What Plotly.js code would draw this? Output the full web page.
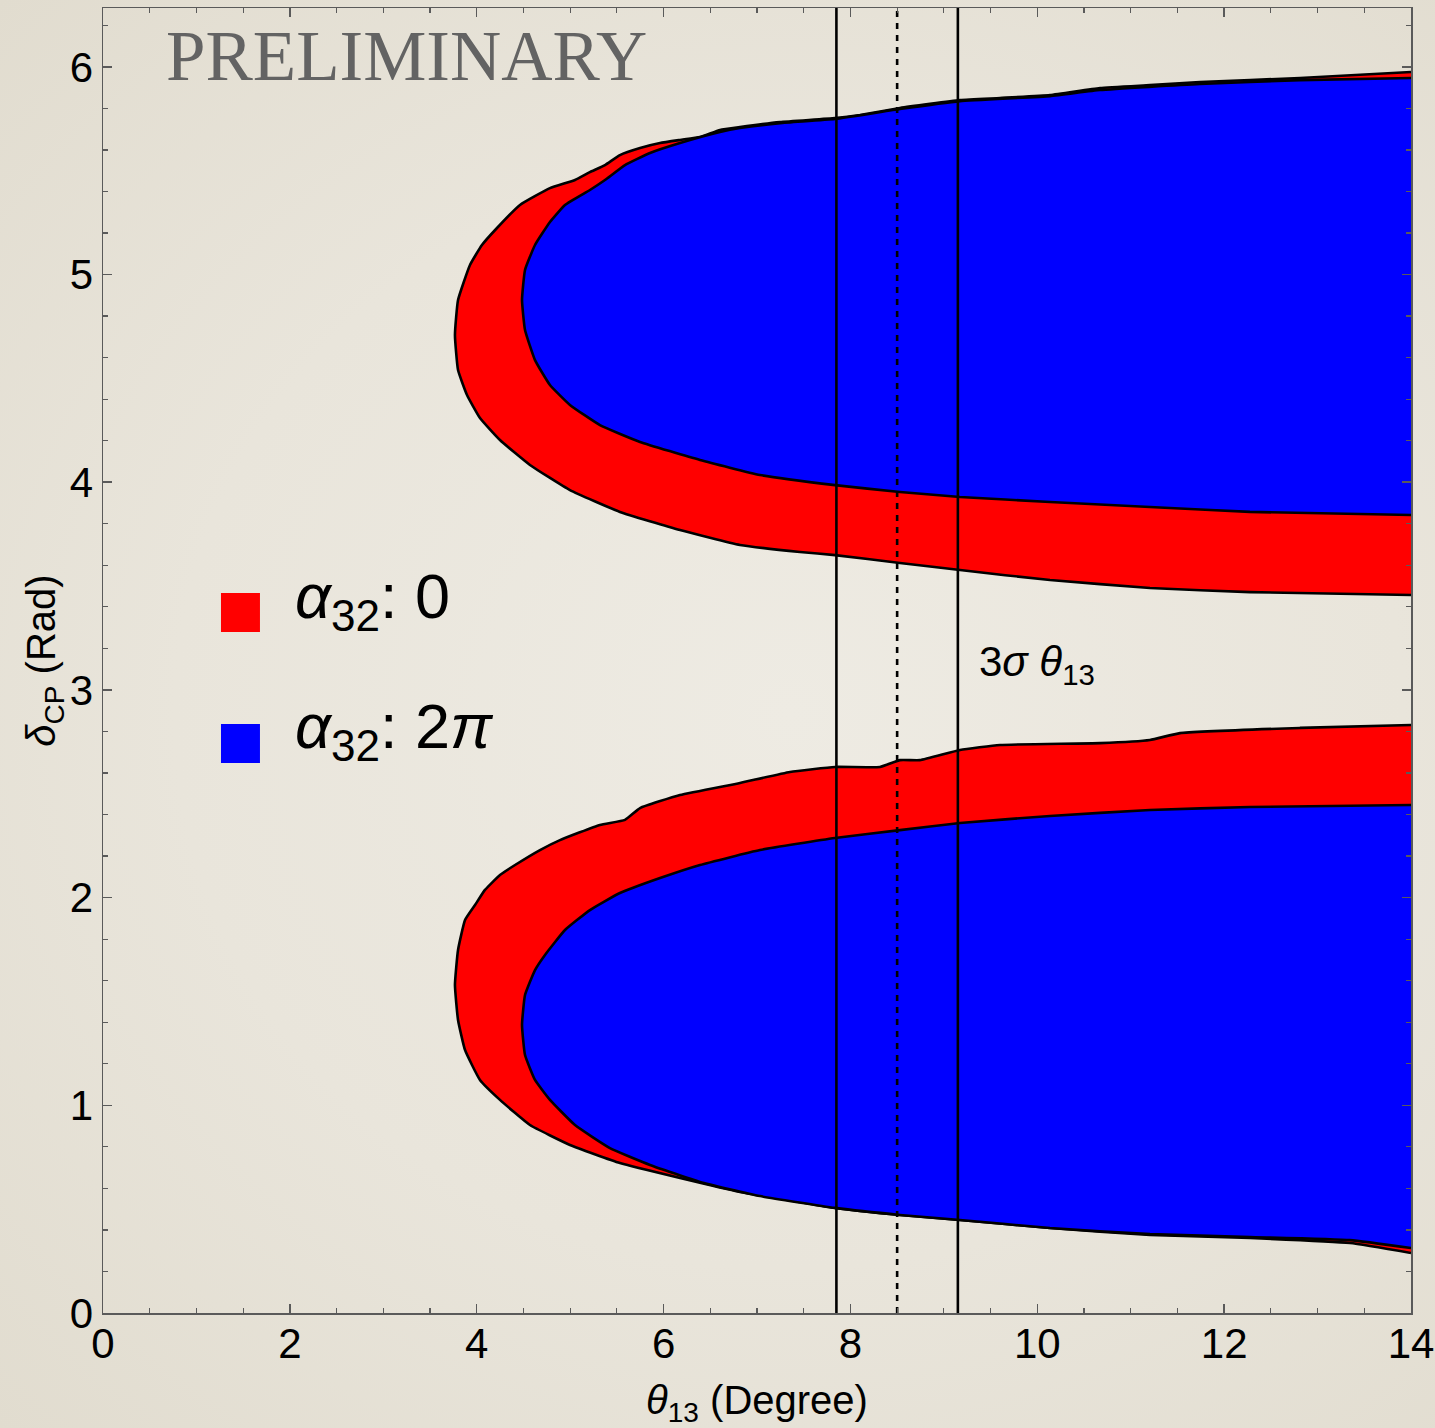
<!DOCTYPE html>
<html>
<head>
<meta charset="utf-8">
<script src="https://cdn.plot.ly/plotly-3.0.1.min.js"></script>
<style>
  html, body { margin: 0; padding: 0; }
  body {
    width: 1435px; height: 1428px; overflow: hidden;
    background: radial-gradient(ellipse at 55% 50%, #eeebe3 0%, #e9e5db 55%, #e1dccf 100%);
  }
  #chart { width: 1435px; height: 1428px; }
</style>
</head>
<body>
<div id="chart"></div>
<script>
// Allowed (theta13, deltaCP) regions. Each lobe is given as its upper and
// lower boundary, both starting at the left-hand tip.

// alpha32 = 0 : upper lobe
const redUpTopTheta = [3.767, 3.800, 3.928, 4.056, 4.217, 4.463, 4.784, 5.052, 5.212, 5.373, 5.533, 5.748, 5.962, 6.176, 6.390, 6.604, 6.818, 7.246, 7.835, 8.102, 8.530, 9.173, 9.601, 10.136, 10.671, 11.206, 11.741, 12.812, 14.0];
const redUpTopDelta = [4.709, 4.877, 5.046, 5.142, 5.224, 5.335, 5.416, 5.455, 5.493, 5.527, 5.575, 5.609, 5.633, 5.648, 5.662, 5.696, 5.710, 5.734, 5.753, 5.768, 5.802, 5.840, 5.850, 5.864, 5.898, 5.912, 5.927, 5.946, 5.975];
const redUpBotTheta = [3.767, 3.800, 3.896, 4.035, 4.249, 4.570, 4.998, 5.533, 6.176, 6.818, 7.460, 7.835, 8.530, 9.173, 10.136, 11.206, 12.276, 14.0];
const redUpBotDelta = [4.709, 4.540, 4.420, 4.309, 4.203, 4.083, 3.962, 3.857, 3.770, 3.698, 3.664, 3.649, 3.611, 3.577, 3.529, 3.491, 3.471, 3.457];

// alpha32 = 0 : lower lobe
const redLoTopTheta = [3.767, 3.800, 3.875, 3.982, 4.088, 4.249, 4.410, 4.677, 4.891, 5.319, 5.587, 5.748, 6.176, 6.818, 7.353, 7.835, 8.316, 8.530, 8.744, 9.173, 9.601, 10.671, 11.206, 11.527, 12.812, 14.0];
const redLoTopDelta = [1.579, 1.748, 1.892, 1.964, 2.037, 2.109, 2.157, 2.229, 2.277, 2.350, 2.374, 2.431, 2.494, 2.552, 2.605, 2.629, 2.629, 2.662, 2.662, 2.711, 2.735, 2.744, 2.759, 2.792, 2.817, 2.831];
const redLoBotTheta = [3.767, 3.800, 3.875, 4.035, 4.249, 4.570, 4.998, 5.533, 6.176, 6.818, 7.460, 7.835, 8.530, 9.173, 10.136, 11.206, 12.276, 13.347, 14.0];
const redLoBotDelta = [1.579, 1.411, 1.266, 1.122, 1.026, 0.905, 0.809, 0.722, 0.650, 0.583, 0.534, 0.506, 0.472, 0.448, 0.409, 0.376, 0.361, 0.337, 0.289];

// alpha32 = 2pi : upper lobe
const blueUpTopTheta = [4.485, 4.517, 4.624, 4.784, 4.945, 5.212, 5.373, 5.587, 5.855, 6.176, 6.604, 6.818, 7.246, 7.835, 8.530, 9.173, 10.136, 10.671, 11.741, 12.812, 14.0];
const blueUpTopDelta = [4.877, 5.022, 5.142, 5.253, 5.335, 5.407, 5.455, 5.527, 5.585, 5.633, 5.686, 5.705, 5.729, 5.749, 5.797, 5.835, 5.859, 5.888, 5.917, 5.936, 5.946];
const blueUpBotTheta = [4.485, 4.517, 4.624, 4.784, 4.998, 5.319, 5.748, 6.390, 7.032, 7.835, 8.530, 9.173, 10.136, 11.206, 12.276, 14.0];
const blueUpBotDelta = [4.877, 4.733, 4.588, 4.468, 4.372, 4.275, 4.194, 4.107, 4.035, 3.986, 3.953, 3.929, 3.905, 3.881, 3.857, 3.842];

// alpha32 = 2pi : lower lobe
const blueLoTopTheta = [4.485, 4.517, 4.624, 4.731, 4.945, 5.212, 5.533, 5.962, 6.390, 7.032, 7.835, 8.530, 9.173, 10.136, 11.206, 12.276, 14.0];
const blueLoTopDelta = [1.387, 1.531, 1.651, 1.724, 1.844, 1.940, 2.022, 2.094, 2.157, 2.229, 2.287, 2.325, 2.359, 2.393, 2.422, 2.436, 2.446];
const blueLoBotTheta = [4.485, 4.517, 4.624, 4.784, 5.052, 5.426, 5.855, 6.390, 7.032, 7.835, 8.530, 9.173, 10.136, 11.206, 12.276, 13.347, 14.0];
const blueLoBotDelta = [1.387, 1.242, 1.122, 1.026, 0.905, 0.794, 0.713, 0.631, 0.563, 0.506, 0.472, 0.448, 0.409, 0.380, 0.366, 0.351, 0.313];

// 3 sigma range of theta13 (solid) and its central value (dotted)
const theta13Sigma = [7.85, 9.15];
const theta13Central = [8.50];

const xTicks = [0, 2, 4, 6, 8, 10, 12, 14];
const yTicks = [0, 1, 2, 3, 4, 5, 6];

const RED = '#ff0000';
const BLUE = '#0000ff';

// Join the two boundaries of a lobe into one outline passing through the tip.
function outline(topX, topY, botX, botY) {
  return {
    x: topX.slice().reverse().concat(botX.slice(1)),
    y: topY.slice().reverse().concat(botY.slice(1))
  };
}

const lobes = [
  { o: outline(redUpTopTheta, redUpTopDelta, redUpBotTheta, redUpBotDelta), c: RED },
  { o: outline(redLoTopTheta, redLoTopDelta, redLoBotTheta, redLoBotDelta), c: RED },
  { o: outline(blueUpTopTheta, blueUpTopDelta, blueUpBotTheta, blueUpBotDelta), c: BLUE },
  { o: outline(blueLoTopTheta, blueLoTopDelta, blueLoBotTheta, blueLoBotDelta), c: BLUE }
];

const traces = [];
lobes.forEach(l => {
  traces.push({
    type: 'scatter', mode: 'lines', x: l.o.x, y: l.o.y,
    fill: 'toself', fillcolor: l.c, line: { width: 0, color: l.c, shape: 'spline', smoothing: 0.4 },
    hoverinfo: 'skip', showlegend: false
  });
  traces.push({
    type: 'scatter', mode: 'lines', x: l.o.x, y: l.o.y,
    line: { width: 2.6, color: '#000000', shape: 'spline', smoothing: 0.4 },
    hoverinfo: 'skip', showlegend: false
  });
});

const Y_TOP = 2 * Math.PI;
theta13Sigma.forEach(t => traces.push({
  type: 'scatter', mode: 'lines', x: [t, t], y: [0, Y_TOP],
  line: { width: 2.6, color: '#000000' }, hoverinfo: 'skip', showlegend: false
}));
theta13Central.forEach(t => traces.push({
  type: 'scatter', mode: 'lines', x: [t, t], y: [0, Y_TOP],
  line: { width: 2.6, color: '#000000', dash: '6px,6px' }, hoverinfo: 'skip', showlegend: false
}));

const axisCommon = {
  showgrid: false, zeroline: false,
  showline: true, linecolor: '#5a5a5a', linewidth: 1.5,
  mirror: 'ticks', ticks: 'inside', ticklen: 9, tickwidth: 1.5, tickcolor: '#5a5a5a',
  tickfont: { family: 'Liberation Sans, Arial, sans-serif', size: 42, color: '#000' }
};

const layout = {
  width: 1435, height: 1428,
  margin: { l: 103, r: 24, t: 8, b: 115 },
  paper_bgcolor: 'rgba(0,0,0,0)',
  plot_bgcolor: 'rgba(0,0,0,0)',
  showlegend: false,
  xaxis: Object.assign({}, axisCommon, {
    range: [0, 14], tickvals: xTicks, ticktext: xTicks.map(String),
    ticklabelstandoff: -7,
    minor: { dtick: 0.5, ticks: 'inside', ticklen: 5, tickwidth: 1.2, tickcolor: '#5a5a5a' },
    title: { text: '<i>θ</i><sub>13</sub> (Degree)', standoff: 20,
      font: { family: 'Liberation Sans, Arial, sans-serif', size: 40, color: '#000' } }
  }),
  yaxis: Object.assign({}, axisCommon, {
    range: [0, Y_TOP], tickvals: yTicks, ticktext: yTicks.map(String),
    minor: { dtick: 0.2, ticks: 'inside', ticklen: 5, tickwidth: 1.2, tickcolor: '#5a5a5a' },
    title: { text: '<i>δ</i><sub>CP</sub> (Rad)', standoff: 0,
      font: { family: 'Liberation Sans, Arial, sans-serif', size: 40, color: '#000' } }
  }),
  shapes: [
    { type: 'rect', xref: 'paper', yref: 'paper', x0: 0.0902, x1: 0.1200, y0: 0.5218, y1: 0.5517,
      fillcolor: RED, line: { width: 0 } },
    { type: 'rect', xref: 'paper', yref: 'paper', x0: 0.0902, x1: 0.1200, y0: 0.4215, y1: 0.4513,
      fillcolor: BLUE, line: { width: 0 } }
  ],
  annotations: [
    { xref: 'paper', yref: 'paper', x: 0.047, y: 0.963, xanchor: 'left', yanchor: 'middle',
      text: 'PRELIMINARY', showarrow: false,
      font: { family: 'Liberation Serif, Times New Roman, serif', size: 71, color: '#636363' } },
    { xref: 'paper', yref: 'paper', x: 0.145, y: 0.546, xanchor: 'left', yanchor: 'middle',
      text: '<i>α</i><sub>32</sub>: 0', showarrow: false,
      font: { family: 'Liberation Sans, Arial, sans-serif', size: 63, color: '#000' } },
    { xref: 'paper', yref: 'paper', x: 0.145, y: 0.446, xanchor: 'left', yanchor: 'middle',
      text: '<i>α</i><sub>32</sub>: 2<i>π</i>', showarrow: false,
      font: { family: 'Liberation Sans, Arial, sans-serif', size: 63, color: '#000' } },
    { xref: 'x', yref: 'y', x: 9.36, y: 3.12, xanchor: 'left', yanchor: 'middle',
      text: '3<i>σ</i> <i>θ</i><sub>13</sub>', showarrow: false,
      font: { family: 'Liberation Sans, Arial, sans-serif', size: 42, color: '#000' } }
  ]
};

Plotly.newPlot('chart', traces, layout, { staticPlot: true, displayModeBar: false });
</script>
</body>
</html>
